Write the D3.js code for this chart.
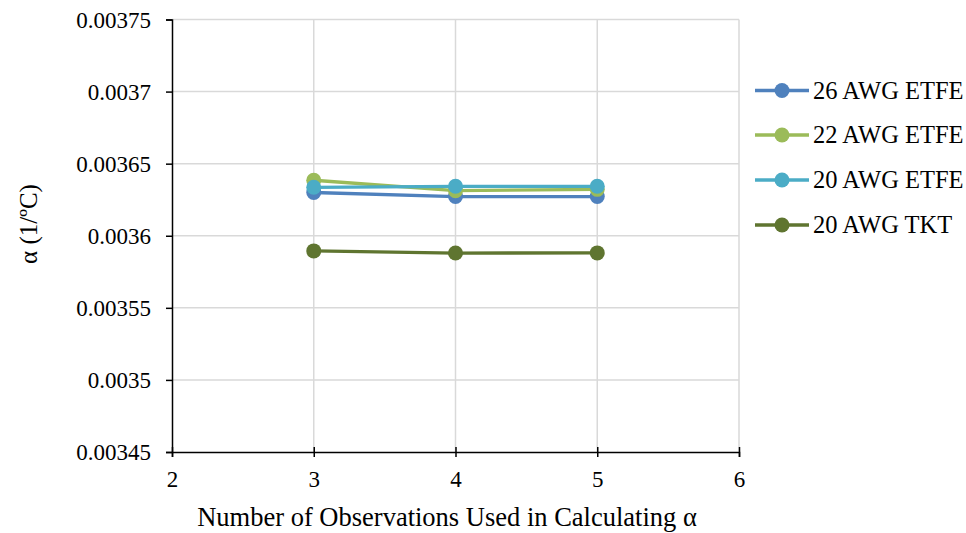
<!DOCTYPE html>
<html>
<head>
<meta charset="utf-8">
<script src="https://cdn.jsdelivr.net/npm/d3@7"></script>
<style>
  body { margin: 0; background: #fff; }
</style>
</head>
<body>
<svg id="chart" width="966" height="533"></svg>
<script>
// Observation counts on the x axis
const observations = [3, 4, 5];

// Temperature coefficient α (1/°C) per wire type
const seriesNames = ["26 AWG ETFE", "22 AWG ETFE", "20 AWG ETFE", "20 AWG TKT"];
const awg26Etfe = [0.003630, 0.0036272, 0.0036272];
const awg22Etfe = [0.0036385, 0.0036313, 0.0036322];
const awg20Etfe = [0.0036336, 0.0036343, 0.0036343];
const awg20Tkt  = [0.0035895, 0.0035880, 0.0035881];
const seriesColors = ["#4F81BD", "#9BBB59", "#4BACC6", "#5F7530"];

const xTicks = [2, 3, 4, 5, 6];
const yTicks = [0.00345, 0.0035, 0.00355, 0.0036, 0.00365, 0.0037, 0.00375];
const yTickLabels = ["0.00345", "0.0035", "0.00355", "0.0036", "0.00365", "0.0037", "0.00375"];

const seriesValues = [awg26Etfe, awg22Etfe, awg20Etfe, awg20Tkt];

const FONT = '"Liberation Serif", "Times New Roman", serif';
const svg = d3.select("#chart");
const plot = { left: 172, right: 739, top: 19.5, bottom: 452 };

const x = d3.scaleLinear().domain([2, 6]).range([plot.left, plot.right]);
const y = d3.scaleLinear().domain([0.00345, 0.00375]).range([plot.bottom, plot.top]);

// Gridlines
const grid = svg.append("g");
grid.selectAll("line.h").data(yTicks.slice(1)).join("line")
  .attr("x1", plot.left).attr("x2", plot.right)
  .attr("y1", d => y(d)).attr("y2", d => y(d))
  .attr("stroke", "#d9d9d9").attr("stroke-width", 1.5);
grid.selectAll("line.v").data(xTicks.slice(1)).join("line")
  .attr("x1", d => x(d)).attr("x2", d => x(d))
  .attr("y1", plot.top).attr("y2", plot.bottom)
  .attr("stroke", "#d9d9d9").attr("stroke-width", 1.5);

// Axes
const yAxis = d3.axisLeft(y).tickValues(yTicks)
  .tickFormat((d, i) => yTickLabels[i]).tickSize(6).tickPadding(15);
const xAxis = d3.axisBottom(x).tickValues(xTicks)
  .tickFormat(d3.format("d")).tickSize(5).tickPadding(13);

const gy = svg.append("g").attr("transform", `translate(${plot.left},0)`).call(yAxis);
const gx = svg.append("g").attr("transform", `translate(0,${plot.bottom})`).call(xAxis);
gx.selectAll(".tick line").attr("y1", -5);
[gx, gy].forEach(g => {
  g.select(".domain").attr("stroke", "#000").attr("stroke-width", 1.5);
  g.selectAll(".tick line").attr("stroke", "#000").attr("stroke-width", 1.5);
  g.selectAll("text").style("font-family", FONT).style("font-size", "23px").attr("fill", "#000");
});
gy.selectAll("text").attr("dy", "0.34em");
gx.selectAll("text").attr("dy", "0.72em");

// Series lines and markers
const line = d3.line().x((d, i) => x(observations[i])).y(d => y(d));
seriesValues.forEach((vals, s) => {
  const g = svg.append("g");
  g.append("path").datum(vals).attr("d", line)
    .attr("fill", "none").attr("stroke", seriesColors[s]).attr("stroke-width", 3.3);
  g.selectAll("circle").data(vals).join("circle")
    .attr("cx", (d, i) => x(observations[i])).attr("cy", d => y(d))
    .attr("r", 7.5).attr("fill", seriesColors[s]);
});

// Axis titles
svg.append("text")
  .attr("x", 447).attr("y", 526)
  .attr("text-anchor", "middle").style("font-family", FONT).style("font-size", "26.5px").attr("fill", "#000")
  .text("Number of Observations Used in Calculating α");
svg.append("text")
  .attr("transform", `translate(37,224) rotate(-90)`)
  .attr("text-anchor", "middle").style("font-family", FONT).style("font-size", "25px").attr("fill", "#000")
  .text("α (1/ºC)");

// Legend
const legend = svg.append("g").attr("transform", "translate(755,0)");
const legendY = [90.5, 135, 180, 225];
seriesNames.forEach((name, i) => {
  const g = legend.append("g").attr("transform", `translate(0,${legendY[i]})`);
  g.append("line").attr("x1", 0).attr("x2", 54).attr("y1", 0).attr("y2", 0)
    .attr("stroke", seriesColors[i]).attr("stroke-width", 3.3);
  g.append("circle").attr("cx", 27).attr("cy", 0).attr("r", 7.5).attr("fill", seriesColors[i]);
  g.append("text").attr("x", 58).attr("y", 8).style("font-family", FONT).style("font-size", "24.5px")
    .attr("fill", "#000").text(name);
});
</script>
</body>
</html>
